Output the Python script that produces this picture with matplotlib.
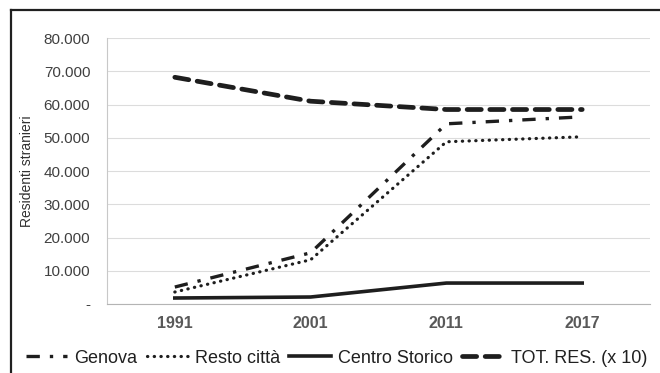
import numpy as np
import matplotlib.pyplot as plt
from matplotlib.lines import Line2D
from matplotlib.ticker import FuncFormatter

plt.rcParams['font.family'] = ['Liberation Sans', 'DejaVu Sans']

# data
anni = ['1991', '2001', '2011', '2017']
genova = [5100, 15400, 54200, 56300]
resto_citta = [3600, 13300, 48800, 50300]
centro_storico = [1800, 2100, 6300, 6300]
tot_res_x10 = [68200, 61000, 58500, 58500]

ink = '#1e1e1e'

fig = plt.figure(figsize=(6.6, 3.73), dpi=100)
ax = fig.add_axes([0.162, 0.185, 0.823, 0.713])

x = np.arange(len(anni))
ax.plot(x, genova, color=ink, lw=2.4, dashes=(4, 3, 1, 3),
        label='Genova')
ax.plot(x, resto_citta, color=ink, lw=2.3, dashes=(0.1, 2.0),
        dash_capstyle='round', label='Resto città')
ax.plot(x, centro_storico, color=ink, lw=2.6, label='Centro Storico')
ax.plot(x, tot_res_x10, color=ink, lw=3.4, dashes=(3, 1.8),
        dash_capstyle='round', label='TOT. RES. (x 10)')

ax.set_xlim(-0.5, len(anni) - 0.5)
ax.set_ylim(0, 80000)
ax.set_yticks(np.arange(0, 80001, 10000))
ax.yaxis.set_major_formatter(FuncFormatter(
    lambda v, p: '-' if v == 0 else f'{int(v):,}'.replace(',', '.')))
ax.set_xticks(x)
ax.set_xticklabels(anni, fontweight='bold', color='#595959', fontsize=11.5)
ax.tick_params(axis='y', labelsize=11, labelcolor='#404040', length=0, pad=12)
ax.tick_params(axis='x', length=0, pad=9)

ax.grid(axis='y', color='#dcdcdc', lw=0.8)
ax.set_axisbelow(True)
for s in ['top', 'right']:
    ax.spines[s].set_visible(False)
ax.spines['left'].set_color('#c8c8c8')
ax.spines['bottom'].set_color('#b4b4b4')

ax.set_ylabel('Residenti stranieri', fontsize=10, color='#303030')
ax.yaxis.set_label_coords(-0.135, 0.5)

fig.legend(loc='center', bbox_to_anchor=(0.51, 0.04), ncol=4, frameon=False,
           fontsize=13, handlelength=2.3, columnspacing=0.5,
           handletextpad=0.4, labelcolor='#202020')

# black frame on left and top
fig.add_artist(Line2D([0.017, 0.017], [0, 0.973], color='#202020', lw=1.6,
                      transform=fig.transFigure))
fig.add_artist(Line2D([0.017, 1.0], [0.973, 0.973], color='#202020', lw=1.6,
                      transform=fig.transFigure))

fig.savefig('out.png', dpi=100)
